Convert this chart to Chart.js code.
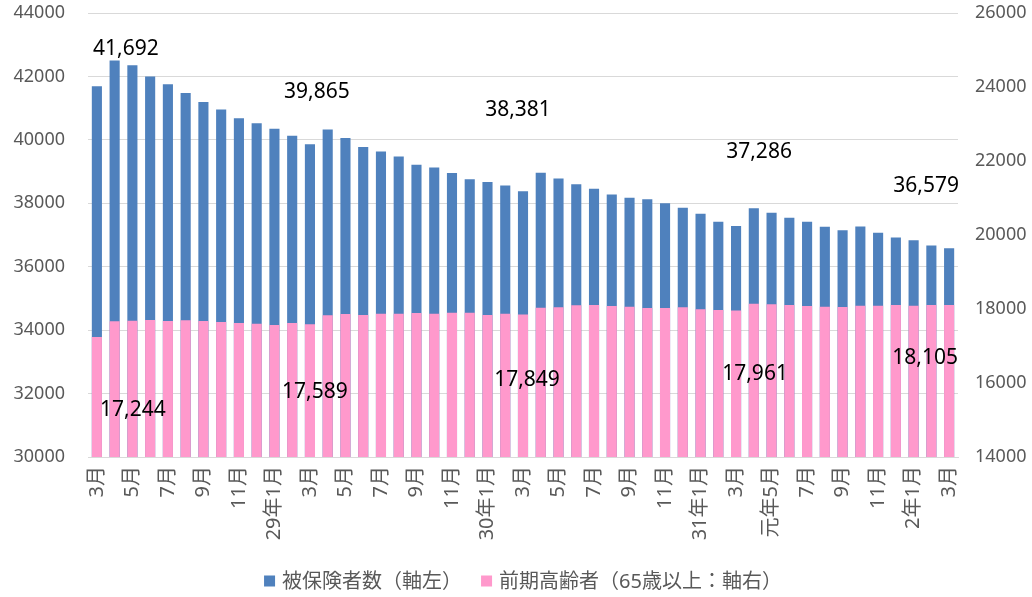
<!DOCTYPE html>
<html lang="ja">
<head>
<meta charset="utf-8">
<title>被保険者数の推移</title>
<script src="https://cdn.jsdelivr.net/npm/chart.js@4.4.1/dist/chart.umd.min.js"></script>
<style>
  html, body { margin: 0; padding: 0; background: #fff; }
  .chart-box { position: relative; width: 1032px; height: 597px; }
</style>
</head>
<body>
<div class="chart-box"><canvas id="insuredChart"></canvas></div>
<script>
// --- data (平成28年3月 〜 令和2年3月) ---
const monthLabels = [
  '3月', '4月', '5月', '6月', '7月', '8月', '9月', '10月', '11月', '12月',
  '29年1月', '2月', '3月', '4月', '5月', '6月', '7月', '8月', '9月', '10月', '11月', '12月',
  '30年1月', '2月', '3月', '4月', '5月', '6月', '7月', '8月', '9月', '10月', '11月', '12月',
  '31年1月', '2月', '3月', '4月', '元年5月', '6月', '7月', '8月', '9月', '10月', '11月', '12月',
  '2年1月', '2月', '3月'
];

// 被保険者数 (左軸)
const insuredTotal = [
  41692, 42505, 42356, 42000, 41750, 41476, 41193, 40955, 40682, 40525,
  40348, 40128, 39865, 40330, 40058, 39776, 39630, 39475, 39213, 39130,
  38955, 38755, 38673, 38558, 38381, 38966, 38780, 38600, 38455, 38276,
  38172, 38127, 38001, 37857, 37668, 37416, 37286, 37844, 37699, 37541,
  37416, 37258, 37151, 37268, 37069, 36921, 36836, 36669, 36579
];

// 前期高齢者 (右軸)
const earlyElderly = [
  17244, 17668, 17685, 17704, 17677, 17695, 17677, 17650, 17623, 17604,
  17568, 17623, 17589, 17831, 17866, 17839, 17874, 17874, 17893, 17874,
  17901, 17901, 17839, 17874, 17849, 18036, 18045, 18101, 18109, 18082,
  18063, 18028, 18028, 18045, 17992, 17974, 17961, 18144, 18126, 18109,
  18082, 18063, 18055, 18090, 18090, 18109, 18090, 18109, 18105
];

// axis ranges
const leftAxis = { min: 30000, max: 44000, step: 2000 };
const rightAxis = { min: 14000, max: 26000, step: 2000 };

// months that carry a value label (each March)
const labelledMonths = [0, 12, 24, 36, 48];

// label placement relative to the bar top (px)
const totalLabelShift = [[29, -37], [7, -52], [-5, -81], [23, -74], [-23, -62]];
const elderlyLabelShift = [[36, 73], [5, 68], [4, 65], [19, 64], [-24, 53]];

const BLUE = '#4F81BD';
const PINK = '#FF99CC';
const GREY_TEXT = '#595959';
const FONT = '"Noto Sans", "Noto Sans CJK JP", sans-serif';

// --- value labels ---
const valueLabels = {
  id: 'valueLabels',
  afterDatasetsDraw(chart) {
    const ctx = chart.ctx;
    const x = chart.scales.x;
    const yL = chart.scales.yLeft;
    const yR = chart.scales.yRight;
    ctx.save();
    ctx.font = '21px ' + FONT;
    ctx.fillStyle = '#000';
    ctx.textAlign = 'center';
    ctx.textBaseline = 'middle';
    labelledMonths.forEach((idx, i) => {
      const px = x.getPixelForValue(idx);
      const t = insuredTotal[idx];
      const e = earlyElderly[idx];
      ctx.fillText(t.toLocaleString('en-US'), px + totalLabelShift[i][0], yL.getPixelForValue(t) + totalLabelShift[i][1]);
      ctx.fillText(e.toLocaleString('en-US'), px + elderlyLabelShift[i][0], yR.getPixelForValue(e) + elderlyLabelShift[i][1]);
    });
    ctx.restore();
  }
};

// --- legend drawn under the axis ---
const bottomLegend = {
  id: 'bottomLegend',
  afterDraw(chart) {
    const ctx = chart.ctx;
    const box = 11, gapText = 7, gapItem = 19;
    ctx.save();
    ctx.font = '20px ' + FONT;
    ctx.textBaseline = 'middle';
    ctx.textAlign = 'left';
    const items = chart.data.datasets.map(ds => ({ text: ds.label, color: ds.backgroundColor }));
    const widths = items.map(it => box + gapText + ctx.measureText(it.text).width);
    const total = widths.reduce((a, b) => a + b, 0) + gapItem * (items.length - 1);
    let x = (chart.chartArea.left + chart.chartArea.right) / 2 - total / 2;
    const y = chart.height - 16;
    items.forEach((it, i) => {
      ctx.fillStyle = it.color;
      ctx.fillRect(x, y - box / 2, box, box);
      ctx.fillStyle = GREY_TEXT;
      ctx.fillText(it.text, x + box + gapText, y + 1);
      x += widths[i] + gapItem;
    });
    ctx.restore();
  }
};

const ctx = document.getElementById('insuredChart').getContext('2d');
new Chart(ctx, {
  type: 'bar',
  data: {
    labels: monthLabels,
    datasets: [
      {
        label: '被保険者数（軸左）',
        data: insuredTotal,
        backgroundColor: BLUE,
        yAxisID: 'yLeft',
        grouped: false,
        order: 2,
        barPercentage: 0.57,
        categoryPercentage: 1.0
      },
      {
        label: '前期高齢者（65歳以上：軸右）',
        data: earlyElderly,
        backgroundColor: PINK,
        yAxisID: 'yRight',
        grouped: false,
        order: 1,
        barPercentage: 0.57,
        categoryPercentage: 1.0
      }
    ]
  },
  options: {
    responsive: true,
    maintainAspectRatio: false,
    animation: false,
    layout: { padding: { top: 13, left: 0, right: 0, bottom: 33 } },
    plugins: {
      legend: { display: false },
      tooltip: { enabled: false }
    },
    scales: {
      x: {
        grid: { display: false, drawTicks: false },
        border: { display: true, color: '#D9D9D9' },
        ticks: {
          autoSkip: false,
          minRotation: 90,
          maxRotation: 90,
          padding: 9,
          color: GREY_TEXT,
          font: { family: FONT, size: 20 },
          callback: (val, i) => (i % 2 === 0 ? monthLabels[i] : '')
        },
        afterFit(scale) { scale.height = 107; }
      },
      yLeft: {
        position: 'left',
        min: leftAxis.min,
        max: leftAxis.max,
        // transparent tick marks keep the labels off the plot without extra top padding
        grid: { color: '#D9D9D9', drawTicks: true, tickLength: 23, tickColor: 'transparent' },
        border: { display: false },
        ticks: {
          stepSize: leftAxis.step,
          padding: 0,
          color: GREY_TEXT,
          font: { family: FONT, size: 18 },
          callback: v => String(v)
        },
        afterFit(scale) { scale.width = 88; }
      },
      yRight: {
        position: 'right',
        min: rightAxis.min,
        max: rightAxis.max,
        grid: { drawOnChartArea: false, drawTicks: true, tickLength: 17, tickColor: 'transparent' },
        border: { display: false },
        ticks: {
          stepSize: rightAxis.step,
          padding: 0,
          color: GREY_TEXT,
          font: { family: FONT, size: 18 },
          callback: v => String(v)
        },
        afterFit(scale) { scale.width = 74; }
      }
    }
  },
  plugins: [valueLabels, bottomLegend]
});
</script>
</body>
</html>
